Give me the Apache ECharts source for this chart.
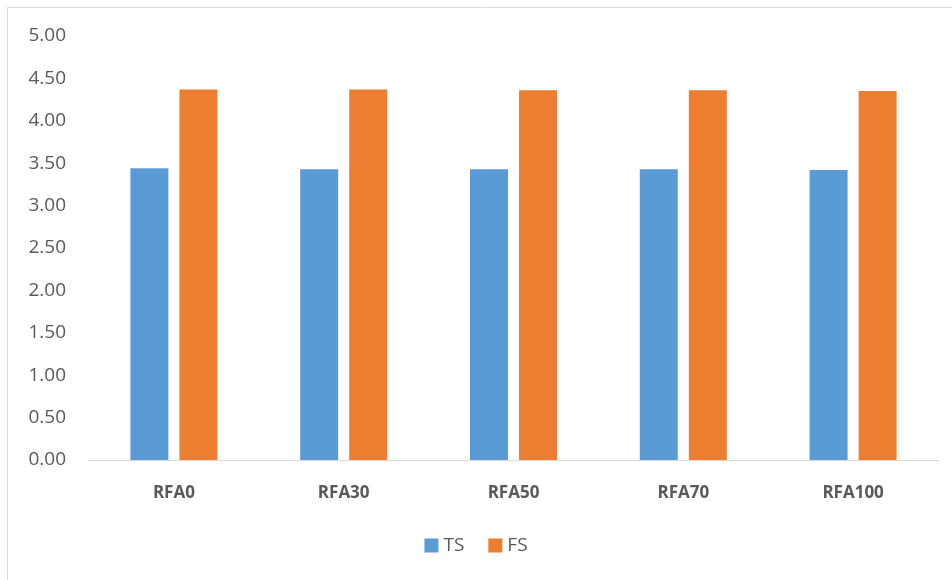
<!DOCTYPE html>
<html>
<head>
<meta charset="utf-8">
<script src="https://cdn.jsdelivr.net/npm/echarts@6/dist/echarts.min.js"></script>
<style>
  html, body { margin: 0; padding: 0; background: #fff; }
  #chart { width: 952px; height: 580px; }
</style>
</head>
<body>
<div id="chart"></div>
<script>
const categories = ['RFA0', 'RFA30', 'RFA50', 'RFA70', 'RFA100']
const tsValues = [3.44, 3.43, 3.43, 3.43, 3.42]
const fsValues = [4.37, 4.37, 4.36, 4.36, 4.35]

const chart = echarts.init(document.getElementById('chart'))

chart.setOption({
  animation: false,
  textStyle: { fontFamily: 'Open Sans, Calibri, sans-serif' },
  graphic: [{
    type: 'rect',
    shape: { x: 7.5, y: 7.5, width: 960, height: 600 },
    style: { fill: 'none', stroke: '#d9d9d9', lineWidth: 1 },
    silent: true
  }],
  grid: { left: 89, right: 14, top: 36, bottom: 120 },
  legend: {
    bottom: 20,
    left: 'center',
    itemWidth: 14,
    itemHeight: 14,
    itemGap: 24,
    icon: 'rect',
    textStyle: { fontSize: 19, color: '#595959' },
    data: ['TS', 'FS']
  },
  xAxis: {
    type: 'category',
    data: categories,
    axisLine: { lineStyle: { color: '#d9d9d9', width: 1 } },
    axisTick: { show: false },
    axisLabel: { fontSize: 17, fontWeight: 'bold', color: '#595959', margin: 25 }
  },
  yAxis: {
    type: 'value',
    min: 0,
    max: 5,
    interval: 0.5,
    splitLine: { show: false },
    axisLine: { show: false },
    axisTick: { show: false },
    axisLabel: {
      fontSize: 19,
      color: '#595959',
      margin: 23,
      formatter: v => v.toFixed(2)
    }
  },
  series: [
    {
      name: 'TS',
      type: 'bar',
      data: tsValues,
      barWidth: 38,
      barGap: '29%',
      itemStyle: { color: '#5b9bd5' }
    },
    {
      name: 'FS',
      type: 'bar',
      data: fsValues,
      barWidth: 38,
      itemStyle: { color: '#ed7d31' }
    }
  ]
})
</script>
</body>
</html>
